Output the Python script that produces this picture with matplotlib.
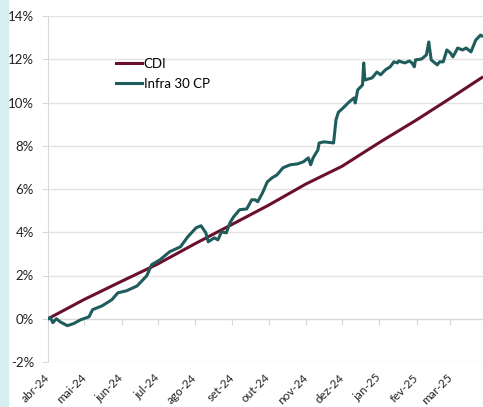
import matplotlib.pyplot as plt
import pandas as pd

# CDI cumulative return (%), month starts
cdi_dates = ['2024-04-01', '2024-05-01', '2024-06-01', '2024-07-01', '2024-08-01',
             '2024-09-01', '2024-10-01', '2024-11-01', '2024-12-01', '2025-01-01',
             '2025-02-01', '2025-03-01', '2025-03-27']
cdi_values = [0.00, 0.89, 1.73, 2.53, 3.47, 4.37, 5.25, 6.23, 7.05, 8.15,
              9.20, 10.20, 11.15]

# Infra 30 CP cumulative return (%)
infra_dates = ['2024-04-01', '2024-04-03', '2024-04-05', '2024-04-08', '2024-04-11',
               '2024-04-17', '2024-04-22', '2024-04-28', '2024-05-05', '2024-05-08',
               '2024-05-16', '2024-05-24', '2024-05-29', '2024-06-05', '2024-06-14',
               '2024-06-22', '2024-06-26', '2024-07-03', '2024-07-11', '2024-07-20',
               '2024-07-26', '2024-08-02', '2024-08-06', '2024-08-10', '2024-08-12',
               '2024-08-17', '2024-08-20', '2024-08-23', '2024-08-27', '2024-08-30',
               '2024-09-02', '2024-09-07', '2024-09-13', '2024-09-17', '2024-09-20',
               '2024-09-22', '2024-09-26', '2024-09-30', '2024-10-04', '2024-10-08',
               '2024-10-13', '2024-10-19', '2024-10-25', '2024-10-30', '2024-11-03',
               '2024-11-05', '2024-11-07', '2024-11-11', '2024-11-12', '2024-11-16',
               '2024-11-24', '2024-11-26', '2024-11-28', '2024-12-01', '2024-12-07',
               '2024-12-11', '2024-12-12', '2024-12-14', '2024-12-18', '2024-12-19',
               '2024-12-20', '2024-12-26', '2024-12-30', '2025-01-02', '2025-01-06',
               '2025-01-10', '2025-01-13', '2025-01-16', '2025-01-17', '2025-01-22',
               '2025-01-26', '2025-01-28', '2025-01-30', '2025-01-31', '2025-02-05',
               '2025-02-09', '2025-02-11', '2025-02-13', '2025-02-18', '2025-02-20',
               '2025-02-23', '2025-02-26', '2025-03-01', '2025-03-03', '2025-03-07',
               '2025-03-11', '2025-03-14', '2025-03-18', '2025-03-22', '2025-03-26',
               '2025-03-27']
infra_values = [0.00, 0.05, -0.18, 0.00, -0.14, -0.32, -0.23, -0.05, 0.09, 0.42,
                0.60, 0.88, 1.20, 1.29, 1.52, 1.99, 2.50, 2.73, 3.10, 3.33,
                3.79, 4.21, 4.30, 3.97, 3.56, 3.74, 3.65, 4.02, 3.97, 4.44,
                4.71, 5.04, 5.08, 5.50, 5.50, 5.41, 5.82, 6.33, 6.52, 6.65,
                6.98, 7.12, 7.16, 7.26, 7.44, 7.12, 7.44, 7.81, 8.13, 8.18,
                8.13, 9.20, 9.55, 9.70, 10.03, 10.21, 9.98, 10.58, 10.81, 11.83,
                11.04, 11.14, 11.41, 11.28, 11.51, 11.65, 11.88, 11.83, 11.92, 11.83,
                11.92, 11.83, 11.65, 11.97, 12.01, 12.20, 12.80, 11.97, 11.74, 11.88,
                11.88, 12.43, 12.29, 12.11, 12.52, 12.43, 12.52, 12.34, 12.89, 13.12,
                13.08]

month_labels = ['abr-24', 'mai-24', 'jun-24', 'jul-24', 'ago-24', 'set-24',
                'out-24', 'nov-24', 'dez-24', 'jan-25', 'fev-25', 'mar-25']
y_ticks = [-2, 0, 2, 4, 6, 8, 10, 12, 14]

plt.rcParams['font.family'] = ['Lato', 'DejaVu Sans']

fig = plt.figure(figsize=(4.83, 4.07), dpi=100)
# light side strip
fig.patches.append(plt.Rectangle((0, 0), 8 / 483, 1, transform=fig.transFigure,
                                 color='#d8eff1', zorder=0))
ax = fig.add_axes([48 / 483, 1 - 362 / 407, 1 - 48 / 483, (362 - 16) / 407])

ax.plot(pd.to_datetime(cdi_dates), cdi_values, color='#6b0f2e', lw=2.2, label='CDI', zorder=3)
ax.plot(pd.to_datetime(infra_dates), infra_values, color='#1f5c5c', lw=2.2,
        label='Infra 30 CP', zorder=4)

for s in ['top', 'right']:
    ax.spines[s].set_visible(False)
ax.spines['left'].set_color('#d9d9d9')
ax.spines['bottom'].set_position(('data', 0))
ax.spines['bottom'].set_color('#d9d9d9')

ax.set_ylim(-2, 14)
ax.set_xlim(pd.Timestamp('2024-04-01'), pd.Timestamp('2025-03-28'))
ax.set_yticks(y_ticks)
ax.set_yticklabels([f'{v}%' for v in y_ticks])
ax.grid(axis='y', color='#e3e3e3', lw=1)
ax.set_axisbelow(True)

ticks = pd.date_range('2024-04-01', periods=12, freq='MS')
ax.set_xticks(ticks)
ax.set_xticklabels(month_labels)
ax.tick_params(axis='y', length=4, color='#d9d9d9', labelsize=9.5, pad=6, labelcolor='#222222')
ax.tick_params(axis='x', length=4, color='#d9d9d9', labelsize=8.5, pad=37,
               labelcolor='#222222', labelrotation=45)
for lbl in ax.get_xticklabels():
    lbl.set_ha('right')
    lbl.set_va('center')
    lbl.set_rotation_mode('anchor')

ax.legend(loc='upper left', bbox_to_anchor=(104 / 483, 1 - 46 / 407),
          bbox_transform=fig.transFigure, frameon=False, fontsize=9.5,
          handlelength=2.0, handletextpad=0.1, labelspacing=0.6)

fig.savefig('out.png', dpi=100)
